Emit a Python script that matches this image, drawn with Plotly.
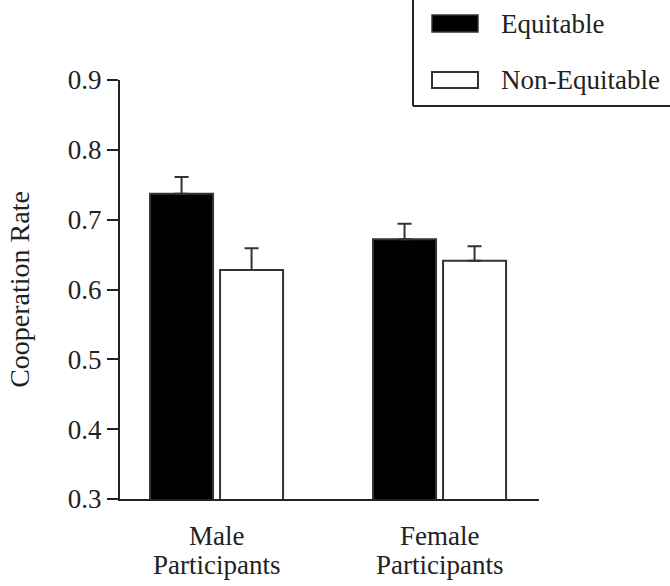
import plotly.graph_objects as go

# ---- data ----
groups = ["Male Participants", "Female Participants"]
group_line1 = ["Male", "Female"]
group_line2 = ["Participants", "Participants"]
series_names = ["Equitable", "Non-Equitable"]
equitable = [0.737, 0.672]
equitable_err = [0.024, 0.022]
non_equitable = [0.628, 0.641]
non_equitable_err = [0.031, 0.021]
y_ticks = [0.3, 0.4, 0.5, 0.6, 0.7, 0.8, 0.9]

W, H = 670, 586
ML, MR, MT, MB = 120, 131, 80, 87
PW, PH = W - ML - MR, H - MT - MB

def px(x):
    return (x - ML) / PW

def py(y):
    return (H - MB - y) / PH

FONT = "Liberation Serif, Times New Roman, serif"
EDGE = "#333333"
TXT = "#222222"
FS = 27

fig = go.Figure()
fig.add_trace(go.Bar(
    x=groups, y=equitable, name=series_names[0],
    marker=dict(color="black", line=dict(color=EDGE, width=2)),
    error_y=dict(type="data", array=equitable_err, arrayminus=[0, 0],
                 symmetric=False, color=EDGE, thickness=2, width=7),
))
fig.add_trace(go.Bar(
    x=groups, y=non_equitable, name=series_names[1],
    marker=dict(color="white", line=dict(color=EDGE, width=2)),
    error_y=dict(type="data", array=non_equitable_err, arrayminus=[0, 0],
                 symmetric=False, color=EDGE, thickness=2, width=7),
))

fig.update_layout(
    width=W, height=H,
    margin=dict(l=ML, r=MR, t=MT, b=MB),
    plot_bgcolor="white", paper_bgcolor="white",
    barmode="group", bargap=0.372, bargroupgap=0.1,
    showlegend=False,
    font=dict(family=FONT, size=FS, color=TXT),
)
fig.update_xaxes(
    range=[-0.433, 1.446], showline=True, linecolor=TXT, linewidth=2,
    ticks="", showgrid=False, zeroline=False, showticklabels=False,
)
fig.update_yaxes(
    range=[0.3, 0.9], tickvals=y_ticks, ticktext=[f"{v:.1f}" for v in y_ticks],
    showline=True, linecolor=TXT, linewidth=2,
    ticks="outside", ticklen=11, tickwidth=2, tickcolor=TXT,
    showgrid=False, zeroline=False,
    tickfont=dict(family=FONT, size=FS, color=TXT),
    title=dict(text="Cooperation Rate", font=dict(family=FONT, size=28, color=TXT), standoff=30),
)

# two-line category labels (tight line spacing as in the reference)
for g, l1, l2 in zip(groups, group_line1, group_line2):
    fig.add_annotation(xref="x", yref="paper", x=g, y=py(536), text=l1,
                       showarrow=False, xanchor="center", yanchor="middle",
                       font=dict(family=FONT, size=FS, color=TXT))
    fig.add_annotation(xref="x", yref="paper", x=g, y=py(565), text=l2,
                       showarrow=False, xanchor="center", yanchor="middle",
                       font=dict(family=FONT, size=FS, color=TXT))

# custom legend box (left and bottom border visible, rest off-canvas)
fig.add_shape(type="line", xref="paper", yref="paper",
              x0=px(413), x1=px(413), y0=py(106), y1=py(-2),
              line=dict(color=TXT, width=2))
fig.add_shape(type="line", xref="paper", yref="paper",
              x0=px(413), x1=px(672), y0=py(106), y1=py(106),
              line=dict(color=TXT, width=2))
fig.add_shape(type="rect", xref="paper", yref="paper",
              x0=px(432), x1=px(478), y0=py(32), y1=py(15),
              fillcolor="black", line=dict(color=EDGE, width=1.5))
fig.add_shape(type="rect", xref="paper", yref="paper",
              x0=px(432), x1=px(478), y0=py(88), y1=py(72),
              fillcolor="white", line=dict(color=EDGE, width=2))
fig.add_annotation(xref="paper", yref="paper", x=px(499), y=py(24),
                   text=series_names[0], showarrow=False, xanchor="left", yanchor="middle",
                   font=dict(family=FONT, size=FS, color=TXT))
fig.add_annotation(xref="paper", yref="paper", x=px(499), y=py(80),
                   text=series_names[1], showarrow=False, xanchor="left", yanchor="middle",
                   font=dict(family=FONT, size=FS, color=TXT))

fig.write_html("out.html")
